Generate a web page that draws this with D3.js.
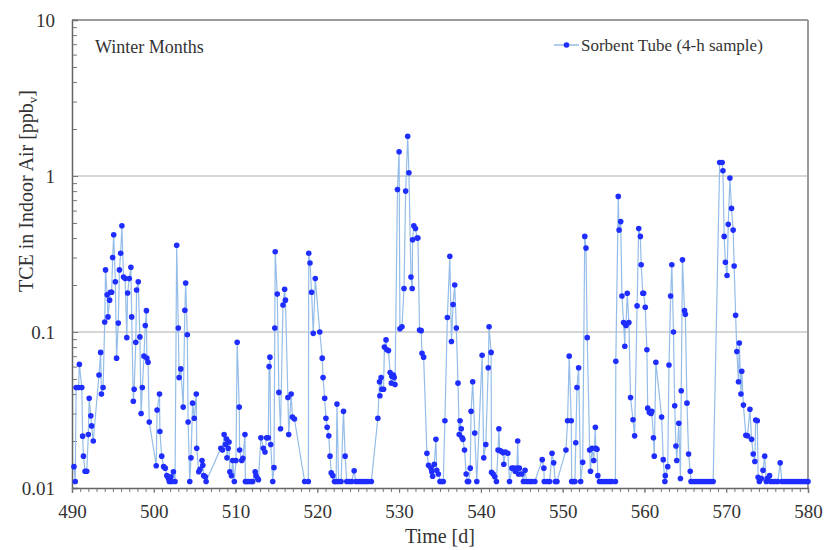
<!DOCTYPE html>
<html>
<head>
<meta charset="utf-8">
<script src="https://cdn.jsdelivr.net/npm/d3@7"></script>
<style>
    body { margin: 0; background: #fff; }
    text { font-family: "Liberation Serif", "Times New Roman", serif; fill: #333; }
</style>
</head>
<body>
<svg id="chart" width="825" height="550"></svg>
<script>
// sample time [d] and TCE concentration [ppbv]
var days = [
    490.24, 490.4, 490.5, 490.8, 490.9, 491.2, 491.3, 491.4, 491.6, 491.8, 492.0, 492.1, 492.3, 492.4, 492.6,
    493.3, 493.5, 493.6, 493.8, 494.0, 494.1, 494.3, 494.4, 494.6, 494.7, 494.85, 494.97, 495.1, 495.3, 495.45,
    495.66, 495.8, 495.95, 496.1, 496.3, 496.5, 496.7, 496.8, 497.0, 497.2, 497.3, 497.5, 497.6, 497.8, 497.9,
    498.1, 498.3, 498.45, 498.6, 498.8, 498.96, 499.1, 499.15, 499.3, 499.45, 500.3, 500.4, 500.7, 500.75, 500.97,
    501.2, 501.4, 501.6, 501.8, 501.9, 502.1, 502.2, 502.4, 502.6, 502.8, 503.0, 503.1, 503.3, 503.6, 503.8,
    503.9, 504.1, 504.2, 504.4, 504.55, 504.75, 504.95, 505.2, 505.25, 505.5, 505.65, 505.9, 506.0, 506.1, 506.3,
    506.4, 508.2, 508.4, 508.6, 508.75, 508.9, 508.95, 509.1, 509.2, 509.3, 509.5, 509.65, 509.85, 510.05, 510.2,
    510.45, 510.5, 510.75, 510.9, 511.15, 511.2, 511.4, 511.6, 511.9, 512.1, 512.4, 512.5, 512.7, 512.8, 513.1,
    513.4, 513.6, 513.8, 514.0, 514.1, 514.2, 514.3, 514.55, 514.7, 514.8, 514.85, 515.1, 515.3, 515.5, 515.8,
    516.0, 516.1, 516.4, 516.5, 516.8, 516.95, 517.2, 518.45, 518.9, 518.95, 519.1, 519.3, 519.5, 519.75, 520.3,
    520.6, 520.7, 520.9, 521.05, 521.2, 521.4, 521.55, 521.7, 521.9, 522.1, 522.3, 522.4, 522.6, 522.9, 523.2,
    523.4, 523.6, 523.9, 524.2, 524.5, 524.7, 525.0, 525.3, 525.6, 525.9, 526.2, 526.6, 527.4, 527.6, 527.65,
    527.8, 527.9, 528.1, 528.2, 528.4, 528.5, 528.7, 528.9, 529.05, 529.1, 529.3, 529.4, 529.5, 529.8, 530.0,
    530.1, 530.35, 530.6, 530.8, 531.05, 531.2, 531.45, 531.6, 531.65, 531.8, 532.0, 532.2, 532.3, 532.5, 532.7,
    532.8, 533.0, 533.4, 533.6, 533.9, 534.0, 534.1, 534.3, 534.5, 534.6, 534.8, 535.0, 535.2, 535.4, 535.6,
    535.9, 536.2, 536.4, 536.6, 536.8, 537.0, 537.2, 537.35, 537.45, 537.6, 537.7, 537.8, 538.0, 538.2, 538.35,
    538.5, 538.7, 538.8, 539.0, 539.25, 539.5, 540.15, 540.35, 540.6, 540.9, 541.0, 541.25, 541.3, 541.5, 541.7,
    541.9, 542.1, 542.2, 542.3, 542.5, 542.7, 542.8, 543.0, 543.3, 543.5, 543.8, 544.0, 544.2, 544.4, 544.5,
    544.6, 544.7, 545.0, 545.2, 545.4, 545.6, 545.9, 546.2, 546.6, 547.5, 547.7, 547.75, 548.1, 548.4, 548.7,
    548.9, 549.1, 549.3, 550.4, 550.6, 550.8, 551.05, 551.1, 551.3, 551.5, 551.6, 551.75, 551.95, 552.2, 552.45,
    552.7, 552.85, 553.0, 553.3, 553.4, 553.6, 553.8, 554.0, 554.05, 554.2, 554.3, 554.5, 554.8, 555.1, 555.4,
    555.7, 556.0, 556.45, 556.5, 556.8, 556.9, 557.1, 557.25, 557.45, 557.6, 557.65, 557.75, 557.9, 558.1, 558.3,
    558.6, 558.8, 559.1, 559.3, 559.5, 559.6, 559.8, 559.9, 560.1, 560.3, 560.4, 560.6, 560.8, 560.9, 561.1,
    561.2, 561.4, 562.1, 562.3, 562.5, 562.55, 562.85, 563.0, 563.2, 563.35, 563.55, 563.7, 563.85, 563.95, 564.2,
    564.4, 564.5, 564.65, 564.9, 565.0, 565.2, 565.4, 565.6, 565.7, 566.0, 566.3, 566.6, 566.9, 567.2, 567.5,
    567.8, 568.1, 568.4, 569.2, 569.5, 569.6, 569.75, 569.9, 570.1, 570.25, 570.45, 570.65, 570.85, 570.97, 571.15,
    571.3, 571.5, 571.6, 571.8, 571.9, 572.1, 572.4, 572.6, 572.9, 573.1, 573.3, 573.5, 573.6, 573.8, 573.9,
    574.05, 574.3, 574.5, 574.7, 574.9, 575.0, 575.3, 575.4, 575.7, 576.0, 576.3, 576.6, 576.8, 577.1, 577.4,
    577.7, 578.0, 578.3, 578.6, 578.9, 579.2, 579.5, 579.8, 580.0
];
var tce = [
    0.0137, 0.011, 0.044, 0.044, 0.062, 0.044, 0.0215, 0.016, 0.0128, 0.0128, 0.022, 0.0376, 0.029, 0.025, 0.020,
    0.053, 0.074, 0.040, 0.044, 0.116, 0.25, 0.173, 0.125, 0.16, 0.18, 0.18, 0.30, 0.42, 0.21, 0.068,
    0.114, 0.25, 0.32, 0.48, 0.225, 0.22, 0.092, 0.178, 0.22, 0.26, 0.125, 0.036, 0.043, 0.086, 0.186,
    0.21, 0.093, 0.030, 0.044, 0.070, 0.11, 0.137, 0.068, 0.064, 0.0265, 0.0139, 0.0316, 0.040, 0.023, 0.016,
    0.0137, 0.0134, 0.012, 0.0115, 0.011, 0.0118, 0.011, 0.0127, 0.011, 0.36, 0.106, 0.051, 0.058, 0.033, 0.138,
    0.206, 0.096, 0.0265, 0.011, 0.0156, 0.035, 0.028, 0.040, 0.018, 0.0127, 0.0132, 0.015, 0.014, 0.012, 0.0118,
    0.011, 0.018, 0.0175, 0.022, 0.019, 0.0206, 0.0156, 0.018, 0.0197, 0.0127, 0.012, 0.015, 0.011, 0.015, 0.086,
    0.033, 0.0175, 0.015, 0.0155, 0.022, 0.011, 0.011, 0.011, 0.011, 0.011, 0.0127, 0.012, 0.0115, 0.0113, 0.021,
    0.018, 0.017, 0.021, 0.021, 0.060, 0.069, 0.019, 0.011, 0.0135, 0.106, 0.327, 0.175, 0.041, 0.024, 0.149,
    0.188, 0.16, 0.038, 0.022, 0.040, 0.0285, 0.0277, 0.011, 0.011, 0.32, 0.277, 0.18, 0.098, 0.22, 0.10,
    0.068, 0.051, 0.0376, 0.028, 0.0245, 0.0216, 0.016, 0.0125, 0.012, 0.011, 0.011, 0.0345, 0.011, 0.011, 0.031,
    0.016, 0.011, 0.011, 0.011, 0.0129, 0.011, 0.011, 0.011, 0.011, 0.011, 0.011, 0.011, 0.028, 0.048, 0.039,
    0.051, 0.043, 0.043, 0.080, 0.089, 0.077, 0.076, 0.055, 0.047, 0.052, 0.053, 0.051, 0.046, 0.82, 1.43,
    0.105, 0.108, 0.19, 0.80, 1.8, 1.05, 0.225, 0.19, 0.39, 0.48, 0.46, 0.40, 0.40, 0.103, 0.102,
    0.073, 0.069, 0.0167, 0.014, 0.0134, 0.0127, 0.0119, 0.0142, 0.0205, 0.013, 0.0123, 0.011, 0.011, 0.011, 0.027,
    0.124, 0.306, 0.087, 0.15, 0.20, 0.106, 0.047, 0.022, 0.027, 0.024, 0.021, 0.0205, 0.0175, 0.0123, 0.011,
    0.011, 0.0134, 0.031, 0.048, 0.0225, 0.011, 0.071, 0.0156, 0.019, 0.059, 0.108, 0.074, 0.0126, 0.0123, 0.0118,
    0.011, 0.0175, 0.024, 0.0174, 0.0172, 0.0168, 0.0142, 0.017, 0.0167, 0.011, 0.0134, 0.0134, 0.0128, 0.0134, 0.020,
    0.0123, 0.0134, 0.0123, 0.011, 0.013, 0.011, 0.011, 0.011, 0.011, 0.0152, 0.0134, 0.011, 0.011, 0.011, 0.0167,
    0.0145, 0.011, 0.011, 0.0175, 0.027, 0.070, 0.027, 0.011, 0.011, 0.011, 0.0195, 0.044, 0.059, 0.011, 0.0146,
    0.41, 0.345, 0.092, 0.0175, 0.0128, 0.018, 0.015, 0.0245, 0.018, 0.0177, 0.012, 0.011, 0.011, 0.011, 0.011,
    0.011, 0.011, 0.011, 0.065, 0.74, 0.45, 0.51, 0.17, 0.115, 0.081, 0.113, 0.11, 0.177, 0.115, 0.038,
    0.0274, 0.0216, 0.147, 0.46, 0.41, 0.27, 0.177, 0.177, 0.144, 0.077, 0.0325, 0.0305, 0.030, 0.031, 0.021,
    0.016, 0.064, 0.0285, 0.0152, 0.011, 0.012, 0.0137, 0.0615, 0.17, 0.27, 0.10, 0.0337, 0.0186, 0.015, 0.026,
    0.0115, 0.042, 0.29, 0.137, 0.13, 0.035, 0.0165, 0.0128, 0.011, 0.011, 0.011, 0.011, 0.011, 0.011, 0.011,
    0.011, 0.011, 0.011, 1.22, 1.22, 1.08, 0.41, 0.28, 0.23, 0.49, 0.97, 0.62, 0.45, 0.265, 0.128,
    0.075, 0.048, 0.085, 0.040, 0.056, 0.034, 0.0218, 0.0216, 0.032, 0.0205, 0.0165, 0.0148, 0.0273, 0.027, 0.0117,
    0.011, 0.0115, 0.013, 0.016, 0.011, 0.0115, 0.012, 0.011, 0.011, 0.011, 0.011, 0.0145, 0.011, 0.011, 0.011,
    0.011, 0.011, 0.011, 0.011, 0.011, 0.011, 0.011, 0.011, 0.011
];
var yMajor = [0.01, 0.1, 1, 10];
var yMajorLabels = ["0.01", "0.1", "1", "10"];
var xMajor = [490, 500, 510, 520, 530, 540, 550, 560, 570, 580];
var gridValues = [0.1, 1];

var margin = {top: 20, right: 17, bottom: 62, left: 72};
var width = 825 - margin.left - margin.right,
    height = 550 - margin.top - margin.bottom;

var svg = d3.select("#chart");
var g = svg.append("g").attr("transform", "translate(" + margin.left + "," + margin.top + ")");

var x = d3.scaleLinear().domain([490, 580]).range([0, width]);
var y = d3.scaleLog().domain([0.01, 10]).range([height, 0]);

var data = days.map(function (d, i) { return {t: d, v: tce[i]}; });

// minor log ticks 2..9 in each decade
var yMinor = [];
[0.01, 0.1, 1].forEach(function (dec) {
    for (var k = 2; k < 10; k++) yMinor.push(dec * k);
});
var xMinor = d3.range(490, 581, 1);

// gridlines
g.selectAll(".grid").data(gridValues).enter().append("line")
    .attr("class", "grid")
    .attr("x1", 0).attr("x2", width)
    .attr("y1", function (d) { return y(d); })
    .attr("y2", function (d) { return y(d); })
    .attr("stroke", "#c9c9c9").attr("stroke-width", 1.5);

// frame (top, right lighter)
g.append("line").attr("x1", 0).attr("x2", width).attr("y1", 0).attr("y2", 0)
    .attr("stroke", "#9a9a9a").attr("stroke-width", 2);
g.append("line").attr("x1", width).attr("x2", width).attr("y1", 0).attr("y2", height)
    .attr("stroke", "#9a9a9a").attr("stroke-width", 2);

// y axis: ticks point inward
var yMinorAxis = g.append("g").call(d3.axisLeft(y).tickValues(yMinor).tickSize(-5).tickFormat(""));
var yAxis = g.append("g").call(d3.axisLeft(y).tickValues(yMajor).tickSize(-6).tickPadding(17)
    .tickFormat(function (d, i) { return yMajorLabels[i]; }));

// x axis: ticks point outward
var xMinorAxis = g.append("g").attr("transform", "translate(0," + height + ")")
    .call(d3.axisBottom(x).tickValues(xMinor).tickSize(4).tickFormat(""));
var xAxis = g.append("g").attr("transform", "translate(0," + height + ")")
    .call(d3.axisBottom(x).tickValues(xMajor).tickSize(5).tickPadding(12).tickFormat(d3.format("d")));

[yMinorAxis, yAxis, xMinorAxis, xAxis].forEach(function (a) {
    a.selectAll("path").attr("stroke", "#666").attr("stroke-width", 1.5);
    a.selectAll("line").attr("stroke", "#777").attr("stroke-width", 1);
    a.selectAll("text").style("font-family", "Liberation Serif").style("font-size", "19px").attr("fill", "#333");
});
yMinorAxis.select("path").remove();
xMinorAxis.select("path").remove();

// the series
var line = d3.line()
    .x(function (d) { return x(d.t); })
    .y(function (d) { return y(d.v); });

g.append("path").datum(data)
    .attr("d", line)
    .attr("fill", "none")
    .attr("stroke", "#95bde9")
    .attr("stroke-width", 1.2);

g.selectAll(".dot").data(data).enter().append("circle")
    .attr("class", "dot")
    .attr("cx", function (d) { return x(d.t); })
    .attr("cy", function (d) { return y(d.v); })
    .attr("r", 2.8)
    .attr("fill", "#1f2dff");

// labels
svg.append("text").attr("x", 95).attr("y", 53).style("font-size", "18px").text("Winter Months");

svg.append("text").attr("x", margin.left + width / 2).attr("y", 543)
    .attr("text-anchor", "middle").style("font-size", "20px").text("Time [d]");

var yl = svg.append("text").attr("transform", "translate(33,191) rotate(-90)")
    .attr("text-anchor", "middle").style("font-size", "20px");
yl.append("tspan").text("TCE in Indoor Air [ppb");
yl.append("tspan").attr("dy", 4).style("font-size", "13px").text("v");
yl.append("tspan").attr("dy", -4).text("]");

// legend
var lg = svg.append("g").attr("transform", "translate(554,45)");
lg.append("line").attr("x1", 0).attr("x2", 25).attr("y1", 0).attr("y2", 0)
    .attr("stroke", "#95bde9").attr("stroke-width", 1.5);
lg.append("circle").attr("cx", 12.5).attr("cy", 0).attr("r", 2.8).attr("fill", "#1f2dff");
lg.append("text").attr("x", 27).attr("y", 6).style("font-size", "17px").text("Sorbent Tube (4-h sample)");
</script>
</body>
</html>
